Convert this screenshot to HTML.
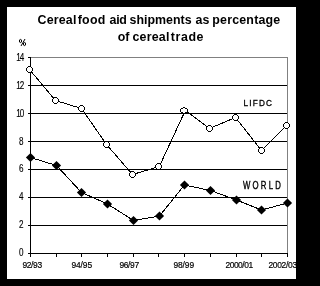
<!DOCTYPE html><html><head><meta charset="utf-8"><style>html,body{margin:0;padding:0;background:#000;width:304px;height:286px;overflow:hidden}svg{display:block;will-change:transform}</style></head><body>
<svg width="304" height="286" viewBox="0 0 304 286">
<rect x="0" y="0" width="304" height="286" fill="#000"/>
<rect x="7" y="7" width="289" height="272" fill="#fff"/>
<text x="37.5" y="24" font-family="'Liberation Sans', sans-serif" font-weight="bold" font-size="12.4" letter-spacing="0.2">Cereal</text>
<text x="77.7" y="24" font-family="'Liberation Sans', sans-serif" font-weight="bold" font-size="12.4" letter-spacing="0.3">food</text>
<text x="109.6" y="24" font-family="'Liberation Sans', sans-serif" font-weight="bold" font-size="12.4" letter-spacing="-0.3">aid</text>
<text x="129.6" y="24" font-family="'Liberation Sans', sans-serif" font-weight="bold" font-size="12.4" letter-spacing="0">shipments</text>
<text x="195.6" y="24" font-family="'Liberation Sans', sans-serif" font-weight="bold" font-size="12.4" letter-spacing="0">as</text>
<text x="212.3" y="24" font-family="'Liberation Sans', sans-serif" font-weight="bold" font-size="12.4" letter-spacing="0.2">percentage</text>
<text x="117.7" y="41" font-family="'Liberation Sans', sans-serif" font-weight="bold" font-size="12.4" letter-spacing="0.1">of</text>
<text x="132.5" y="41" font-family="'Liberation Sans', sans-serif" font-weight="bold" font-size="12.4" letter-spacing="0.2">cereal</text>
<text x="170.8" y="41" font-family="'Liberation Sans', sans-serif" font-weight="bold" font-size="12.4" letter-spacing="0.6">trade</text>
<g shape-rendering="crispEdges" stroke-width="1">
<rect x="30.5" y="57.5" width="257" height="196" fill="none" stroke="#808080"/>
<line x1="30" y1="225.5" x2="287" y2="225.5" stroke="#000"/>
<line x1="30" y1="197.5" x2="287" y2="197.5" stroke="#000"/>
<line x1="30" y1="169.5" x2="287" y2="169.5" stroke="#000"/>
<line x1="30" y1="141.5" x2="287" y2="141.5" stroke="#000"/>
<line x1="30" y1="113.5" x2="287" y2="113.5" stroke="#000"/>
<line x1="30" y1="85.5" x2="287" y2="85.5" stroke="#000"/>
<line x1="30.5" y1="57" x2="30.5" y2="257" stroke="#000"/>
<line x1="30" y1="253.5" x2="288" y2="253.5" stroke="#000"/>
<line x1="28" y1="253.5" x2="30" y2="253.5" stroke="#000"/>
<line x1="28" y1="225.5" x2="30" y2="225.5" stroke="#000"/>
<line x1="28" y1="197.5" x2="30" y2="197.5" stroke="#000"/>
<line x1="28" y1="169.5" x2="30" y2="169.5" stroke="#000"/>
<line x1="28" y1="141.5" x2="30" y2="141.5" stroke="#000"/>
<line x1="28" y1="113.5" x2="30" y2="113.5" stroke="#000"/>
<line x1="28" y1="85.5" x2="30" y2="85.5" stroke="#000"/>
<line x1="28" y1="57.5" x2="30" y2="57.5" stroke="#000"/>
<line x1="30.5" y1="254" x2="30.5" y2="257" stroke="#000"/>
<line x1="56.5" y1="254" x2="56.5" y2="257" stroke="#000"/>
<line x1="81.5" y1="254" x2="81.5" y2="257" stroke="#000"/>
<line x1="107.5" y1="254" x2="107.5" y2="257" stroke="#000"/>
<line x1="133.5" y1="254" x2="133.5" y2="257" stroke="#000"/>
<line x1="158.5" y1="254" x2="158.5" y2="257" stroke="#000"/>
<line x1="184.5" y1="254" x2="184.5" y2="257" stroke="#000"/>
<line x1="210.5" y1="254" x2="210.5" y2="257" stroke="#000"/>
<line x1="236.5" y1="254" x2="236.5" y2="257" stroke="#000"/>
<line x1="261.5" y1="254" x2="261.5" y2="257" stroke="#000"/>
<line x1="287.5" y1="254" x2="287.5" y2="257" stroke="#000"/>
</g>
<text transform="translate(22.6,256) scale(0.78,1)" text-anchor="end" font-family="'Liberation Sans', sans-serif" stroke="#000" stroke-width="0.15" font-size="10.4" letter-spacing="-1.2">0</text>
<text transform="translate(22.6,228) scale(0.78,1)" text-anchor="end" font-family="'Liberation Sans', sans-serif" stroke="#000" stroke-width="0.15" font-size="10.4" letter-spacing="-1.2">2</text>
<text transform="translate(22.6,200) scale(0.78,1)" text-anchor="end" font-family="'Liberation Sans', sans-serif" stroke="#000" stroke-width="0.15" font-size="10.4" letter-spacing="-1.2">4</text>
<text transform="translate(22.6,172) scale(0.78,1)" text-anchor="end" font-family="'Liberation Sans', sans-serif" stroke="#000" stroke-width="0.15" font-size="10.4" letter-spacing="-1.2">6</text>
<text transform="translate(22.6,145) scale(0.78,1)" text-anchor="end" font-family="'Liberation Sans', sans-serif" stroke="#000" stroke-width="0.15" font-size="10.4" letter-spacing="-1.2">8</text>
<text transform="translate(23.4,117) scale(0.78,1)" text-anchor="end" font-family="'Liberation Sans', sans-serif" stroke="#000" stroke-width="0.15" font-size="10.4" letter-spacing="-1.2">10</text>
<text transform="translate(23.4,89) scale(0.78,1)" text-anchor="end" font-family="'Liberation Sans', sans-serif" stroke="#000" stroke-width="0.15" font-size="10.4" letter-spacing="-1.2">12</text>
<text transform="translate(23.4,61) scale(0.78,1)" text-anchor="end" font-family="'Liberation Sans', sans-serif" stroke="#000" stroke-width="0.15" font-size="10.4" letter-spacing="-1.2">14</text>
<g fill="none" stroke="#000" stroke-width="1"><ellipse cx="20.5" cy="41" rx="1.1" ry="1.6"/><ellipse cx="24.5" cy="44" rx="1.1" ry="1.6"/><line x1="25" y1="39" x2="21" y2="46"/></g>
<text transform="translate(22.5,267.8) scale(0.88,1)" font-family="'Liberation Sans', sans-serif" font-size="9.6" stroke="#000" stroke-width="0.2" textLength="22.27" lengthAdjust="spacing">92/93</text>
<text transform="translate(71.5,267.8) scale(0.88,1)" font-family="'Liberation Sans', sans-serif" font-size="9.6" stroke="#000" stroke-width="0.2" textLength="23.41" lengthAdjust="spacing">94/95</text>
<text transform="translate(119.5,267.8) scale(0.88,1)" font-family="'Liberation Sans', sans-serif" font-size="9.6" stroke="#000" stroke-width="0.2" textLength="22.27" lengthAdjust="spacing">96/97</text>
<text transform="translate(173.5,267.8) scale(0.88,1)" font-family="'Liberation Sans', sans-serif" font-size="9.6" stroke="#000" stroke-width="0.2" textLength="23.41" lengthAdjust="spacing">98/99</text>
<text transform="translate(225.5,267.8) scale(0.88,1)" font-family="'Liberation Sans', sans-serif" font-size="9.6" stroke="#000" stroke-width="0.2" textLength="31.36" lengthAdjust="spacing">2000/01</text>
<text transform="translate(268.5,267.8) scale(0.88,1)" font-family="'Liberation Sans', sans-serif" font-size="9.6" stroke="#000" stroke-width="0.2" textLength="32.50" lengthAdjust="spacing">2002/03</text>
<g shape-rendering="crispEdges">
<polyline points="29.5,69.5 55.5,100.5 81.5,108.5 106.5,144.5 132.5,174.5 159.3,166.5 185.3,110.5 209.5,128.5 235.5,117.5 261.5,150.5 286.5,125.5" fill="none" stroke="#000" stroke-width="1"/>
<polyline points="30.5,157.5 56.5,165.5 81.5,192.5 107.5,204.0 133.5,220.5 159.5,216.0 184.5,185.0 210.5,190.5 236.5,200.0 261.5,210.0 287.5,203.0" fill="none" stroke="#000" stroke-width="1"/>
</g>
<g shape-rendering="crispEdges">
<path d="M27,67h5v5h-5z" fill="#fff"/>
<path d="M28,66h1v1h-1zM29,66h1v1h-1zM30,66h1v1h-1zM27,67h1v1h-1zM31,67h1v1h-1zM26,68h1v1h-1zM32,68h1v1h-1zM26,69h1v1h-1zM32,69h1v1h-1zM26,70h1v1h-1zM32,70h1v1h-1zM27,71h1v1h-1zM31,71h1v1h-1zM28,72h1v1h-1zM29,72h1v1h-1zM30,72h1v1h-1z" fill="#000"/>
<path d="M53,98h5v5h-5z" fill="#fff"/>
<path d="M54,97h1v1h-1zM55,97h1v1h-1zM56,97h1v1h-1zM53,98h1v1h-1zM57,98h1v1h-1zM52,99h1v1h-1zM58,99h1v1h-1zM52,100h1v1h-1zM58,100h1v1h-1zM52,101h1v1h-1zM58,101h1v1h-1zM53,102h1v1h-1zM57,102h1v1h-1zM54,103h1v1h-1zM55,103h1v1h-1zM56,103h1v1h-1z" fill="#000"/>
<path d="M79,106h5v5h-5z" fill="#fff"/>
<path d="M80,105h1v1h-1zM81,105h1v1h-1zM82,105h1v1h-1zM79,106h1v1h-1zM83,106h1v1h-1zM78,107h1v1h-1zM84,107h1v1h-1zM78,108h1v1h-1zM84,108h1v1h-1zM78,109h1v1h-1zM84,109h1v1h-1zM79,110h1v1h-1zM83,110h1v1h-1zM80,111h1v1h-1zM81,111h1v1h-1zM82,111h1v1h-1z" fill="#000"/>
<path d="M104,142h5v5h-5z" fill="#fff"/>
<path d="M105,141h1v1h-1zM106,141h1v1h-1zM107,141h1v1h-1zM104,142h1v1h-1zM108,142h1v1h-1zM103,143h1v1h-1zM109,143h1v1h-1zM103,144h1v1h-1zM109,144h1v1h-1zM103,145h1v1h-1zM109,145h1v1h-1zM104,146h1v1h-1zM108,146h1v1h-1zM105,147h1v1h-1zM106,147h1v1h-1zM107,147h1v1h-1z" fill="#000"/>
<path d="M130,172h5v5h-5z" fill="#fff"/>
<path d="M131,171h1v1h-1zM132,171h1v1h-1zM133,171h1v1h-1zM130,172h1v1h-1zM134,172h1v1h-1zM129,173h1v1h-1zM135,173h1v1h-1zM129,174h1v1h-1zM135,174h1v1h-1zM129,175h1v1h-1zM135,175h1v1h-1zM130,176h1v1h-1zM134,176h1v1h-1zM131,177h1v1h-1zM132,177h1v1h-1zM133,177h1v1h-1z" fill="#000"/>
<path d="M156,164h5v5h-5z" fill="#fff"/>
<path d="M157,163h1v1h-1zM158,163h1v1h-1zM159,163h1v1h-1zM156,164h1v1h-1zM160,164h1v1h-1zM155,165h1v1h-1zM161,165h1v1h-1zM155,166h1v1h-1zM161,166h1v1h-1zM155,167h1v1h-1zM161,167h1v1h-1zM156,168h1v1h-1zM160,168h1v1h-1zM157,169h1v1h-1zM158,169h1v1h-1zM159,169h1v1h-1z" fill="#000"/>
<path d="M181,108h6v5h-6z" fill="#fff"/>
<path d="M183,107h1v1h-1zM184,107h1v1h-1zM181,108h1v1h-1zM182,108h1v1h-1zM185,108h1v1h-1zM186,108h1v1h-1zM180,109h1v1h-1zM187,109h1v1h-1zM180,110h1v1h-1zM187,110h1v1h-1zM180,111h1v1h-1zM187,111h1v1h-1zM181,112h1v1h-1zM182,112h1v1h-1zM185,112h1v1h-1zM186,112h1v1h-1zM183,113h1v1h-1zM184,113h1v1h-1z" fill="#000"/>
<path d="M207,126h5v5h-5z" fill="#fff"/>
<path d="M208,125h1v1h-1zM209,125h1v1h-1zM210,125h1v1h-1zM207,126h1v1h-1zM211,126h1v1h-1zM206,127h1v1h-1zM212,127h1v1h-1zM206,128h1v1h-1zM212,128h1v1h-1zM206,129h1v1h-1zM212,129h1v1h-1zM207,130h1v1h-1zM211,130h1v1h-1zM208,131h1v1h-1zM209,131h1v1h-1zM210,131h1v1h-1z" fill="#000"/>
<path d="M233,115h5v5h-5z" fill="#fff"/>
<path d="M234,114h1v1h-1zM235,114h1v1h-1zM236,114h1v1h-1zM233,115h1v1h-1zM237,115h1v1h-1zM232,116h1v1h-1zM238,116h1v1h-1zM232,117h1v1h-1zM238,117h1v1h-1zM232,118h1v1h-1zM238,118h1v1h-1zM233,119h1v1h-1zM237,119h1v1h-1zM234,120h1v1h-1zM235,120h1v1h-1zM236,120h1v1h-1z" fill="#000"/>
<path d="M259,148h5v5h-5z" fill="#fff"/>
<path d="M260,147h1v1h-1zM261,147h1v1h-1zM262,147h1v1h-1zM259,148h1v1h-1zM263,148h1v1h-1zM258,149h1v1h-1zM264,149h1v1h-1zM258,150h1v1h-1zM264,150h1v1h-1zM258,151h1v1h-1zM264,151h1v1h-1zM259,152h1v1h-1zM263,152h1v1h-1zM260,153h1v1h-1zM261,153h1v1h-1zM262,153h1v1h-1z" fill="#000"/>
<path d="M284,123h5v5h-5z" fill="#fff"/>
<path d="M285,122h1v1h-1zM286,122h1v1h-1zM287,122h1v1h-1zM284,123h1v1h-1zM288,123h1v1h-1zM283,124h1v1h-1zM289,124h1v1h-1zM283,125h1v1h-1zM289,125h1v1h-1zM283,126h1v1h-1zM289,126h1v1h-1zM284,127h1v1h-1zM288,127h1v1h-1zM285,128h1v1h-1zM286,128h1v1h-1zM287,128h1v1h-1z" fill="#000"/>
</g>
<polygon points="30.5,152.9 35.1,157.5 30.5,162.1 25.9,157.5" fill="#000"/>
<polygon points="56.5,160.9 61.1,165.5 56.5,170.1 51.9,165.5" fill="#000"/>
<polygon points="81.5,187.9 86.1,192.5 81.5,197.1 76.9,192.5" fill="#000"/>
<polygon points="107.5,199.4 112.1,204.0 107.5,208.6 102.9,204.0" fill="#000"/>
<polygon points="133.5,215.9 138.1,220.5 133.5,225.1 128.9,220.5" fill="#000"/>
<polygon points="159.5,211.4 164.1,216.0 159.5,220.6 154.9,216.0" fill="#000"/>
<polygon points="184.5,180.4 189.1,185.0 184.5,189.6 179.9,185.0" fill="#000"/>
<polygon points="210.5,185.9 215.1,190.5 210.5,195.1 205.9,190.5" fill="#000"/>
<polygon points="236.5,195.4 241.1,200.0 236.5,204.6 231.9,200.0" fill="#000"/>
<polygon points="261.5,205.4 266.1,210.0 261.5,214.6 256.9,210.0" fill="#000"/>
<polygon points="287.5,198.4 292.1,203.0 287.5,207.6 282.9,203.0" fill="#000"/>
<text transform="translate(243.5,106) scale(0.82,0.85)" font-family="'Liberation Sans', sans-serif" font-size="10" stroke="#000" stroke-width="0.35" textLength="34.76" lengthAdjust="spacing">LIFDC</text>
<text transform="translate(243,189) scale(0.78,1.0)" font-family="'Liberation Sans', sans-serif" font-size="10" stroke="#000" stroke-width="0.35" textLength="48.46" lengthAdjust="spacing">WORLD</text>
</svg></body></html>
